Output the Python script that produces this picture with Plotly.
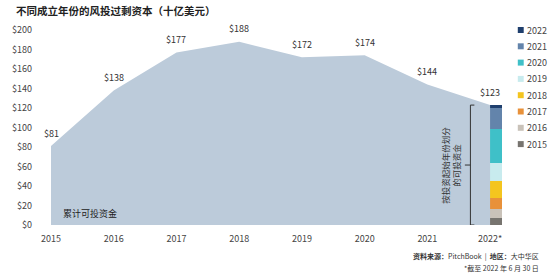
import plotly.graph_objects as go

# ---- data ----
years = [2015, 2016, 2017, 2018, 2019, 2020, 2021, 2022]
year_labels = ["2015", "2016", "2017", "2018", "2019", "2020", "2021", "2022*"]
dry_powder = [81, 138, 177, 188, 172, 174, 144, 123]

vintage_names = ["2015", "2016", "2017", "2018", "2019", "2020", "2021", "2022"]
vintage_values = [7, 9, 12, 17, 19, 34, 22, 3]
vintage_colors = ["#77746f", "#c9c2b9", "#e8913a", "#f4c51f", "#c8ebee",
                  "#3fc0c8", "#6384ab", "#1f3f6d"]

title_text = "不同成立年份的风投过剩资本（十亿美元）"
area_label = "累计可投资金"
bracket_label = "按投资起始年份划分<br>的可投资金"
source_text = "<b>资料来源：</b>PitchBook  |  <b>地区：</b>大中华区"
note_text = "*截至 2022 年 6 月 30 日"

FONT = "Noto Sans CJK SC, Noto Sans, sans-serif"
W, H = 553, 278
L, R, T, B = 45, 51, 30, 53
PW, PH = W - L - R, H - T - B


def px_x(px):
    return (px - L) / PW


def px_y(py):
    return (T + PH - py) / PH


def note(px, py, text, size, color="#333333", xanchor="left", angle=0):
    return dict(x=px_x(px), y=px_y(py), xref="paper", yref="paper", text=text,
                showarrow=False, xanchor=xanchor, yanchor="middle", textangle=angle,
                font=dict(size=size, color=color, family=FONT))


fig = go.Figure()

# cumulative dry powder area
fig.add_trace(go.Scatter(
    x=years, y=dry_powder, mode="lines", fill="tozeroy",
    line=dict(width=0, color="#bccbda"), fillcolor="#bccbda",
    hoverinfo="skip", showlegend=False,
))

# stacked vintage bar at 2022
for name, val, col in zip(vintage_names, vintage_values, vintage_colors):
    fig.add_trace(go.Bar(
        x=[years[-1]], y=[val], name=name, marker=dict(color=col, line=dict(width=0)),
        width=0.38, showlegend=False,
    ))

annotations = []
# value labels
for x, v in zip(years, dry_powder):
    annotations.append(dict(x=x, y=v, text=f"${v}", showarrow=False, yshift=13,
                            xanchor="center", yanchor="middle",
                            font=dict(size=9, color="#333333", family=FONT)))

annotations.append(note(55, 213, area_label, 9, "#222222"))
annotations.append(note(449, 165, bracket_label, 8.5, "#333333", xanchor="center", angle=-90))
annotations.append(note(8, 11, f"<b>{title_text}</b>", 10.5, "#222222"))
annotations.append(note(542, 256, source_text, 7, "#333333", xanchor="right"))
annotations.append(note(542, 268, note_text, 7, "#333333", xanchor="right"))

shapes = []
# manual legend (2022 on top)
for i, (name, col) in enumerate(zip(vintage_names[::-1], vintage_colors[::-1])):
    cy = 30 + i * 16.3
    shapes.append(dict(type="rect", xref="paper", yref="paper",
                       x0=px_x(518), x1=px_x(524), y0=px_y(cy + 3), y1=px_y(cy - 3),
                       fillcolor=col, line=dict(width=0)))
    annotations.append(note(525.5, cy, name, 9, "#444444"))

# bracket
total = sum(vintage_values)
xscale = PW / 7.19
bx = 2015 + (470 - L) / xscale
tick_r = 4 / xscale
line = dict(color="#333333", width=1)
shapes.append(dict(type="line", x0=bx, x1=bx, y0=0, y1=total, line=line))
shapes.append(dict(type="line", x0=bx, x1=bx + tick_r, y0=total, y1=total, line=line))
shapes.append(dict(type="line", x0=bx, x1=bx + tick_r, y0=0, y1=0, line=line))
shapes.append(dict(type="line", x0=bx - 1.4 * tick_r, x1=bx, y0=total / 2, y1=total / 2, line=line))

fig.update_layout(
    width=W, height=H, margin=dict(l=L, r=R, t=T, b=B),
    paper_bgcolor="white", plot_bgcolor="white",
    barmode="stack", bargap=0,
    font=dict(family=FONT, size=9, color="#444444"),
    annotations=annotations, shapes=shapes,
    xaxis=dict(range=[2015, 2022.19], tickvals=years, ticktext=year_labels,
               showgrid=False, zeroline=False, showline=False, ticks="",
               ticklabelstandoff=7,
               tickfont=dict(size=9, color="#444444"), fixedrange=True),
    yaxis=dict(range=[0, 200], dtick=20, tickprefix="$", showgrid=False, zeroline=False,
               showline=False, ticks="", ticklabelstandoff=18,
               tickfont=dict(size=9, color="#444444"), fixedrange=True),
)

fig.write_html("out.html", config={"displayModeBar": False})
